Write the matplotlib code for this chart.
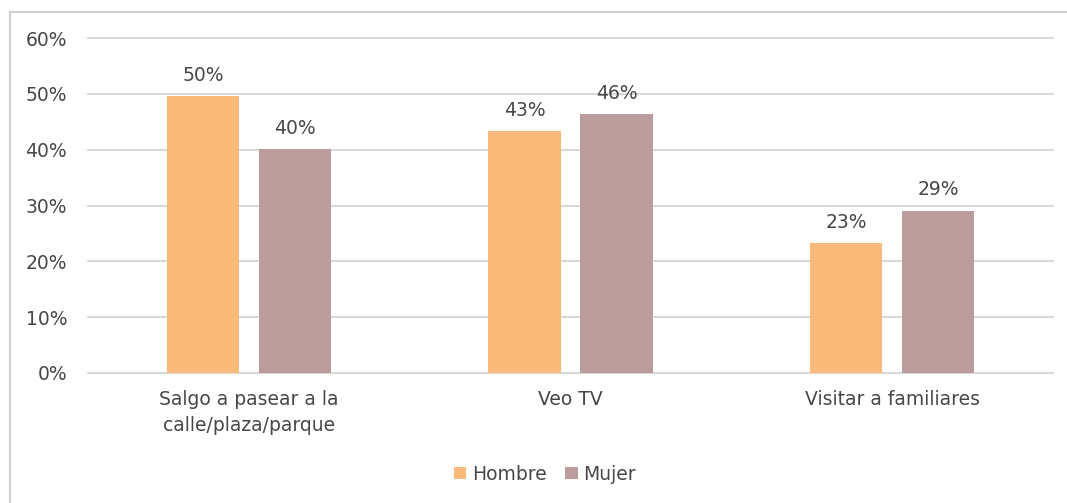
import numpy as np
import matplotlib.pyplot as plt
from matplotlib.patches import Rectangle

categorias = ["Salgo a pasear a la\ncalle/plaza/parque", "Veo TV", "Visitar a familiares"]
hombre = [49.6, 43.4, 23.3]
mujer = [40.1, 46.4, 29.1]
etiquetas_h = ["50%", "43%", "23%"]
etiquetas_m = ["40%", "46%", "29%"]

plt.rcParams['font.family'] = ['DejaVu Sans']
color_texto = '#474747'
fs = 13.5

fig = plt.figure(figsize=(10.67, 5.03), dpi=100)
ax = fig.add_axes([88/1067, 1-373/503, 965/1067, 335/503])

# marco del gráfico
fig.patches.append(Rectangle((10/1067, -0.1), 1.2, 1-12/503+0.1, transform=fig.transFigure,
                             fill=False, edgecolor='#d0d0d0', linewidth=1.5))

x = np.arange(len(categorias))
ancho = 0.224
desp = 0.143
b1 = ax.bar(x - desp, hombre, ancho, color='#F9B978', label='Hombre', zorder=3)
b2 = ax.bar(x + desp, mujer, ancho, color='#BA9C9C', label='Mujer', zorder=3)

for barras, etq in ((b1, etiquetas_h), (b2, etiquetas_m)):
    for b, t in zip(barras, etq):
        ax.text(b.get_x() + b.get_width()/2, b.get_height() + 2.0, t, ha='center', va='bottom',
                fontsize=fs, color=color_texto)

ax.set_xlim(-0.5, 2.5)
ax.set_ylim(0, 60)
ax.set_yticks(np.arange(0, 61, 10))
ax.set_yticklabels([f"{v}%" for v in range(0, 61, 10)], fontsize=fs, color=color_texto)
ax.set_xticks(x)
ax.set_xticklabels(categorias, fontsize=fs, color=color_texto, linespacing=1.5)
ax.tick_params(length=0)
ax.tick_params(axis='y', pad=15)
ax.tick_params(axis='x', pad=12)
ax.grid(axis='y', color='#d9d9d9', linewidth=1.5, zorder=0)
for gl in ax.get_ygridlines():
    gl.set_clip_on(False)
for s in ax.spines.values():
    s.set_visible(False)

leg = fig.legend(handles=[b1, b2], loc='center', bbox_to_anchor=(545/1067, 1-474/503), ncol=2,
                 frameon=False, fontsize=fs, handlelength=0.65, handleheight=0.65,
                 handletextpad=0.3, columnspacing=1.0)
for t in leg.get_texts():
    t.set_color(color_texto)

fig.savefig('out.png', dpi=100)
